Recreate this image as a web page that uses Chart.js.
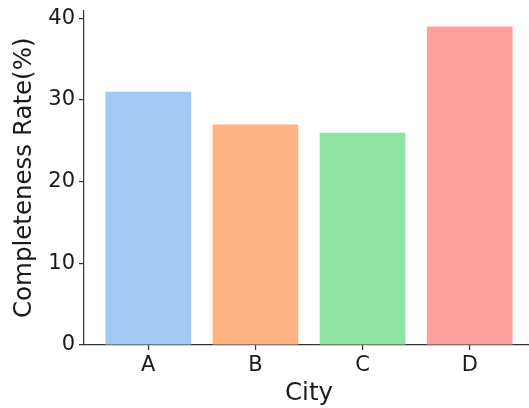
<!DOCTYPE html>
<html>
<head>
<meta charset="utf-8">
<script src="https://cdn.jsdelivr.net/npm/chart.js@4/dist/chart.umd.min.js"></script>
<style>
  html, body { margin: 0; padding: 0; background: #fff; overflow: hidden; }
  #wrap { position: absolute; left: 0; top: -6px; width: 536px; height: 414px; }
</style>
</head>
<body>
<div id="wrap"><canvas id="c"></canvas></div>
<script>
const categories = ['A', 'B', 'C', 'D'];
const completeness = [31, 27, 26, 39];
const barColors = ['#a1c9f4', '#ffb482', '#8de5a1', '#ff9f9b'];
const yTicks = [0, 10, 20, 30, 40];
const xTitle = 'City';
const yTitle = 'Completeness Rate(%)';

const FONT = 'DejaVu Sans';
const TEXT = '#1a1a1a';
const AXIS = '#333333';

new Chart(document.getElementById('c'), {
  type: 'bar',
  data: {
    datasets: [{
      data: categories.map((c, i) => ({ x: i, y: completeness[i] })),
      backgroundColor: barColors,
      borderWidth: 0,
      categoryPercentage: 1.0,
      barPercentage: 0.8
    }]
  },
  options: {
    responsive: true,
    maintainAspectRatio: false,
    animation: false,
    layout: { padding: { left: 0, right: 2, top: 0, bottom: 0 } },
    plugins: { legend: { display: false }, tooltip: { enabled: false } },
    scales: {
      x: {
        type: 'linear',
        min: -0.6,
        max: 3.6,
        offset: false,
        afterBuildTicks: s => { s.ticks = categories.map((c, i) => ({ value: i })); },
        afterFit: s => { s.height = 63; },
        ticks: {
          autoSkip: false,
          maxRotation: 0,
          padding: 3,
          color: TEXT,
          font: { family: FONT, size: 21 },
          callback: v => categories[v] ?? ''
        },
        grid: { display: true, offset: false, drawOnChartArea: false, drawTicks: true, tickLength: 5, color: AXIS, lineWidth: 1.2 },
        border: { display: true, color: AXIS, width: 1.2 },
        title: {
          display: true, text: xTitle, color: TEXT,
          font: { family: FONT, size: 24.5 },
          padding: { top: 0, bottom: 0 }
        }
      },
      y: {
        min: 0,
        max: 40.95,
        afterBuildTicks: s => { s.ticks = yTicks.map(v => ({ value: v })); },
        afterFit: s => { s.width = 84; },
        ticks: {
          padding: 4,
          color: TEXT,
          font: { family: FONT, size: 21 }
        },
        grid: { offset: false, drawOnChartArea: false, drawTicks: true, tickLength: 5, color: AXIS, lineWidth: 1.2 },
        border: { display: true, color: AXIS, width: 1.2 },
        title: {
          display: true, text: yTitle, color: TEXT,
          font: { family: FONT, size: 24.5 },
          padding: { top: 10, bottom: 0 }
        }
      }
    }
  }
});
</script>
</body>
</html>
